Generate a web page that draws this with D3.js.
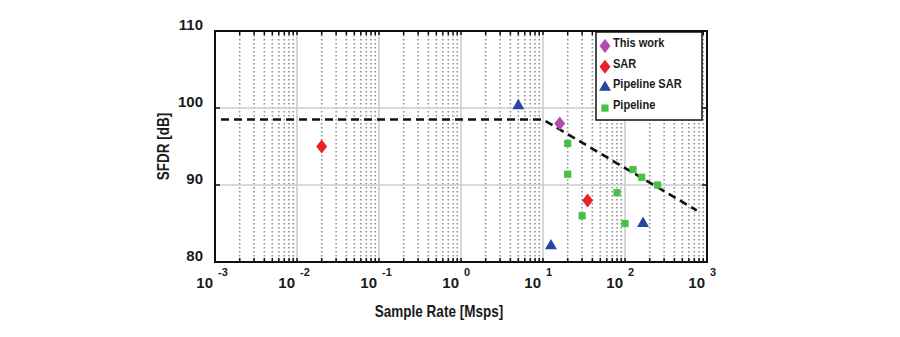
<!DOCTYPE html>
<html>
<head>
<meta charset="utf-8">
<script src="https://cdn.jsdelivr.net/npm/d3@7"></script>
<style>
  body { margin: 0; background: #fff; }
  text { font-family: "Liberation Sans", Arial, sans-serif; font-weight: bold; fill: #1a1a1a; }
</style>
</head>
<body>
<div id="chart"></div>
<script>
// values (x in Msps, y in dB)
const thisWork = [[16, 98]];
const sar = [[0.02, 95], [35, 88]];
const pipelineSar = [[5, 100.3], [12.5, 82.1], [166, 85]];
const pipeline = [[20, 95.4], [20, 91.4], [30, 86], [80, 89], [100, 85], [125, 92], [160, 91], [250, 90]];
const boundary = [[0.001, 98.5], [10, 98.5], [750, 86.7]];
const xDecades = [-3, -2, -1, 0, 1, 2, 3];
const yTicks = [80, 90, 100, 110];
const legendNames = ["This work", "SAR", "Pipeline SAR", "Pipeline"];

const width = 900, height = 337;
const margin = { top: 31, right: 193, bottom: 75, left: 215 };

const svg = d3.select("#chart").append("svg")
  .attr("width", width).attr("height", height);

const x = d3.scaleLog().domain([1e-3, 1e3]).range([margin.left, width - margin.right]);
const y = d3.scaleLinear().domain([80, 110]).range([height - margin.bottom, margin.top]);

const x0 = x.range()[0], x1 = x.range()[1];
const y0 = y.range()[0], y1 = y.range()[1];

// condensed bold text, like the original figure's font
function label(parent, tx, ty, str, size, anchor, rot, sx) {
  return parent.append("text")
    .attr("transform", `translate(${tx},${ty})` + (rot ? `rotate(${rot})` : "") + `scale(${sx || 0.88},1)`)
    .attr("text-anchor", anchor || "start")
    .attr("font-size", size)
    .text(str);
}

// minor values 2..9 per decade
let minors = [];
xDecades.slice(0, -1).forEach(d => {
  for (let k = 2; k <= 9; k++) minors.push(k * Math.pow(10, d));
});
const majors = xDecades.map(d => Math.pow(10, d));

const grid = svg.append("g");
// dotted minor grid
grid.selectAll(".minor").data(minors).join("line")
  .attr("x1", d => x(d)).attr("x2", d => x(d))
  .attr("y1", y1).attr("y2", y0)
  .attr("stroke", "#8f8f8f").attr("stroke-width", 1.6)
  .attr("stroke-dasharray", "1.6,2.4");
// solid major grid
grid.selectAll(".major").data(majors.slice(1, -1)).join("line")
  .attr("x1", d => x(d)).attr("x2", d => x(d))
  .attr("y1", y1).attr("y2", y0)
  .attr("stroke", "#cccccc").attr("stroke-width", 1.6);
grid.selectAll(".hmajor").data([90, 100]).join("line")
  .attr("x1", x0).attr("x2", x1)
  .attr("y1", d => y(d)).attr("y2", d => y(d))
  .attr("stroke", "#cccccc").attr("stroke-width", 1.6);

// tick marks (inside)
const ticks = svg.append("g").attr("stroke", "#111").attr("stroke-width", 1.5);
minors.concat(majors).forEach(v => {
  const len = 4;
  ticks.append("line").attr("x1", x(v)).attr("x2", x(v)).attr("y1", y0).attr("y2", y0 - len);
  ticks.append("line").attr("x1", x(v)).attr("x2", x(v)).attr("y1", y1).attr("y2", y1 + len);
});
[90, 100].forEach(v => {
  ticks.append("line").attr("x1", x0).attr("x2", x0 + 5).attr("y1", y(v)).attr("y2", y(v));
  ticks.append("line").attr("x1", x1).attr("x2", x1 - 5).attr("y1", y(v)).attr("y2", y(v));
});

// boundary dashed line
svg.append("path")
  .datum(boundary)
  .attr("fill", "none")
  .attr("stroke", "#111")
  .attr("stroke-width", 2.6)
  .attr("stroke-dasharray", "8,5")
  .attr("stroke-dashoffset", -6)
  .attr("d", d3.line().x(d => x(d[0])).y(d => y(d[1])));

// markers
const diamondType = {
  draw(ctx, size) {
    const w = 5.5, h = 7;
    ctx.moveTo(0, -h); ctx.lineTo(w, 0); ctx.lineTo(0, h); ctx.lineTo(-w, 0); ctx.closePath();
  }
};
const sym = {
  diamond: d3.symbol().type(diamondType),
  triangle: d3.symbol().type(d3.symbolTriangle).size(62),
  square: d3.symbol().type(d3.symbolSquare).size(52)
};
const series = [
  { data: pipeline, shape: "square", color: "#46c046" },
  { data: pipelineSar, shape: "triangle", color: "#2845a0" },
  { data: sar, shape: "diamond", color: "#e8242a" },
  { data: thisWork, shape: "diamond", color: "#b24cb4" }
];
series.forEach(s => {
  svg.append("g").selectAll("path").data(s.data).join("path")
    .attr("transform", d => `translate(${x(d[0])},${y(d[1])})`)
    .attr("d", sym[s.shape]())
    .attr("fill", s.color);
});

// legend
const legendItems = [
  { name: legendNames[0], shape: "diamond", color: "#b24cb4" },
  { name: legendNames[1], shape: "diamond", color: "#e8242a" },
  { name: legendNames[2], shape: "triangle", color: "#2845a0" },
  { name: legendNames[3], shape: "square", color: "#46c046" }
];
const legend = svg.append("g");
legend.append("rect")
  .attr("x", 596).attr("y", y1 + 1).attr("width", 106).attr("height", 88)
  .attr("fill", "#fff").attr("stroke", "#111").attr("stroke-width", 1.5);
legendItems.forEach((d, i) => {
  const ly = 43 + i * 20.7;
  legend.append("path")
    .attr("transform", `translate(605,${ly + 3})`)
    .attr("d", sym[d.shape]())
    .attr("fill", d.color);
  label(legend, 613, ly + 4, d.name, 13, "start", 0, 0.85);
});

// frame
svg.append("rect")
  .attr("x", x0).attr("y", y1).attr("width", x1 - x0).attr("height", y0 - y1)
  .attr("fill", "none").attr("stroke", "#111").attr("stroke-width", 2);

// y tick labels
svg.append("g").selectAll("text").data(yTicks).join("text")
  .attr("x", x0 - 12).attr("y", d => y(d) - 1)
  .attr("text-anchor", "end")
  .attr("font-size", 15)
  .text(d => d);

// x tick labels: 10 with exponent
const xl = svg.append("g").selectAll("g").data(xDecades).join("g")
  .attr("transform", d => `translate(${x(Math.pow(10, d))},0)`);
xl.append("text").attr("x", -2).attr("y", 288)
  .attr("text-anchor", "end").attr("font-size", 15).text("10");
xl.append("text").attr("x", 3).attr("y", 276)
  .attr("font-size", 11).text(d => d);

// axis titles
label(svg, (x0 + x1) / 2 - 22, 317, "Sample Rate [Msps]", 16.5, "middle", 0, 0.82);
label(svg, 169, (y0 + y1) / 2, "SFDR [dB]", 16.5, "middle", -90, 0.82);
</script>
</body>
</html>
